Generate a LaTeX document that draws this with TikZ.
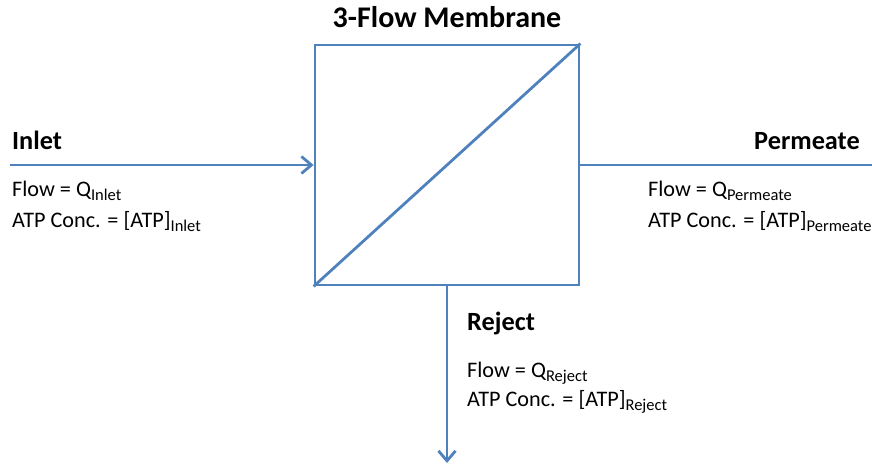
\documentclass[tikz,border=0pt]{standalone}
\usepackage{fontspec}
\setmainfont{Carlito}
\usetikzlibrary{arrows.meta}
\definecolor{flowblue}{RGB}{79,129,189}
\newcommand\subtxt[1]{\raisebox{-0.2em}{\fontsize{16.5}{16.5}\selectfont #1}}
\tikzset{
  pipe/.style={draw=flowblue, line width=2.8pt},
  flowarrow/.style={pipe, -{Straight Barb[length=10pt,width=17pt,line width=2.8pt]}},
  lbl/.style={anchor=base west, inner sep=0pt, font=\fontsize{26.3}{30}\selectfont\bfseries},
  txt/.style={anchor=base west, inner sep=0pt, font=\fontsize{22.2}{26}\selectfont},
}
\begin{document}
\begin{tikzpicture}[x=1pt,y=-1pt]
\useasboundingbox (0,0) rectangle (872,467);
% membrane box
\node[draw=flowblue, line width=2.8pt, minimum width=264pt, minimum height=240pt, inner sep=0pt] (mem) at (447,165) {};
\draw[pipe] (mem.south west) -- (mem.north east);
\node[anchor=base, inner sep=0pt, font=\fontsize{30}{34}\selectfont\bfseries] (title) at (447,27) {3-Flow Membrane};
% connectors
\coordinate (inS) at (10,165);
\coordinate (permE) at (872,165);
\coordinate (rejE) at (447,463);
\draw[flowarrow] (inS) -- (mem.west);
\draw[pipe] (mem.east) -- (permE);
\draw[flowarrow] (mem.south) -- (rejE);
% inlet texts
\node[lbl] (inlbl) at (12,149) {Inlet};
\node[txt] (inflow) at (12,196) {Flow = Q\subtxt{Inlet}};
\node[txt] (inatp) at (12,227) {ATP Conc. = [ATP]\subtxt{Inlet}};
% permeate texts
\node[lbl, anchor=base east] (permlbl) at (860,149) {Permeate};
\node[txt] (permflow) at (648,196) {Flow = Q\subtxt{Permeate}};
\node[txt] (permatp) at (648,227) {ATP Conc. = [ATP]\subtxt{Permeate}};
% reject texts
\node[lbl] (rejlbl) at (467,330) {Reject};
\node[txt] (rejflow) at (467,377) {Flow = Q\subtxt{Reject}};
\node[txt] (rejatp) at (467,406) {ATP Conc. = [ATP]\subtxt{Reject}};
\end{tikzpicture}
\end{document}
